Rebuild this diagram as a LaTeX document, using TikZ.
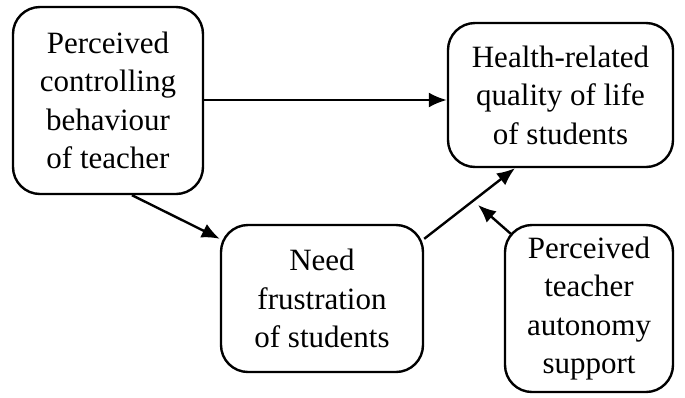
\documentclass[tikz,border=0pt]{standalone}
\usepackage{fontspec}
\setmainfont{Liberation Serif}
\usetikzlibrary{arrows.meta,positioning}

\begin{document}
\begin{tikzpicture}[x=0.5pt,y=-0.5pt,>={Latex[length=9pt,width=7.5pt]},line width=1.2pt,
    every node/.append style={align=center,font=\fontsize{15.5}{19.2}\selectfont},
    int/.style={draw, rounded corners=13.5pt, inner sep=0pt}]
    \useasboundingbox (0,0) rectangle (685,397);
    \node [int, minimum width=95pt, minimum height=93.5pt] (ctrl) at (108,100.5) {Perceived\\controlling\\behaviour\\of teacher};
    \node [int, minimum width=112.5pt, minimum height=72pt] (hrql) at (560.5,95) {Health-related\\quality of life\\of students};
    \node [int, minimum width=101pt, minimum height=73.5pt] (need) at (322,298.5) {Need\\frustration\\of students};
    \node [int, minimum width=84pt, minimum height=83.5pt] (auto) at (589,308.5) {Perceived\\teacher\\autonomy\\support};

    \coordinate (mod) at (478,205); % tip of the moderation arrow
    \draw[->] (ctrl.east |- 0,100) -- (hrql.west |- 0,100);
    \draw[->] ([xshift=12pt]ctrl.south) -- ([yshift=-7.5pt]need.north west);
    \draw[->] ([yshift=-7.5pt]need.north east) -- ([xshift=-22.75pt]hrql.south);
    \draw[->] ([xshift=3.5pt,yshift=-5pt]auto.north west) -- (mod);
\end{tikzpicture}
\end{document}
